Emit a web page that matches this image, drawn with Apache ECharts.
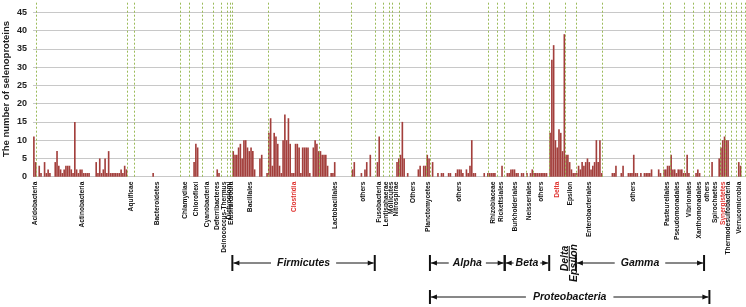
<!DOCTYPE html>
<html>
<head>
<meta charset="UTF-8">
<title>Selenoproteins per genome</title>
<script src="https://cdn.jsdelivr.net/npm/echarts@6.0.0/dist/echarts.min.js"></script>
<style>
html, body { margin: 0; padding: 0; background: #fff; }
#main { width: 746px; height: 307px; }
</style>
</head>
<body>
<div id="main"></div>
<script type="text/javascript">
// taxon groups along the x axis, left to right
var groupLabels = [
  'Acidobacteria', 'Actinobacteria', 'Aquificae', 'Bacteroidetes', 'Chlamydiae',
  'Chloroflexi', 'Cyanobacteria', 'Deferribacteres', 'Deinococcus-Thermus', 'Dictyoglomi',
  'Elusimicrobia', 'Bacillales', 'Clostridia', 'Lactobacillales', 'others',
  'Fusobacteria', 'Lentisphaerae', 'Mollicutes', 'Nitrospirae', 'Others',
  'Planctomycetes', 'others', 'Rhizobiaceae', 'Rickettsiales', 'Burkholderiales',
  'Neisseriales', 'others', 'Delta', 'Epsilon', 'Enterobacteriales',
  'others', 'Pasteurellales', 'Pseudomonadales', 'Vibrionales', 'Xanthomonadales',
  'others', 'Spirochaetes', 'Synergistetes', 'Thermodesulfobacteria', 'Thermotogae',
  'Verrucomicrobia', ''
];

// selenoproteins per genome, one array per group (same order as groupLabels)
var groupBars = [
  [11, 4],
  [0, 3, 1, 0, 4, 1, 2, 1, 0, 0, 4, 7, 3, 2, 1, 2, 3, 3, 3, 2, 1, 15, 2, 1, 2, 2, 1, 1, 1, 1, 0, 0, 0, 4, 1, 5, 1, 2, 5, 1, 7, 1, 1, 1, 1, 1, 1, 2, 1, 3, 2],
  [0, 0, 0, 0],
  [0, 0, 0, 0, 0, 0, 0, 0, 0, 0, 1, 0, 0, 0, 0, 0, 0, 0, 0, 0, 0, 0, 0, 0, 0, 0],
  [0, 0, 0, 0, 0],
  [0, 0, 4, 9, 8, 0, 0],
  [0, 0, 0, 0, 0, 0],
  [0, 0, 2, 1, 0],
  [0, 0, 0],
  [0, 0],
  [0],
  [7, 6, 6, 8, 9, 5, 10, 10, 8, 7, 8, 7, 2, 0, 0, 5, 6, 0, 0, 1],
  [12, 16, 3, 12, 11, 9, 3, 1, 10, 17, 10, 16, 9, 1, 1, 9, 9, 8, 1, 8, 8, 8, 8, 1, 0, 8, 10, 9, 7],
  [7, 6, 6, 6, 3, 0, 1, 1, 4, 0, 0, 0, 0, 0, 0, 0, 0, 0],
  [2, 4, 0, 0, 0, 1, 0, 2, 4, 0, 6, 0, 0],
  [0, 4, 11, 0, 0],
  [0, 0, 0],
  [0, 0],
  [0, 0, 4, 5],
  [6, 15, 5, 0, 1, 0, 0, 0, 0, 0, 2, 3, 0, 3, 3],
  [6, 5],
  [0, 4, 0, 0, 1, 0, 1, 1, 0, 0, 1, 1, 0, 0, 1, 2, 2, 2, 1, 0, 2, 1, 3, 10, 1, 1, 0, 0, 0, 0, 1, 0, 1],
  [1, 1, 1, 1, 0],
  [0, 0, 3, 0],
  [0, 1, 1, 2, 2, 2, 1, 1, 0, 1, 1, 0],
  [1, 0, 1, 2],
  [1, 1, 1, 1, 1, 1, 1, 1, 0],
  [12, 32, 36, 10, 8, 13, 12, 7, 39],
  [6, 6, 4, 2, 1, 1],
  [1, 3, 2, 4, 3, 4, 5, 4, 2, 3, 4, 10, 4, 10, 1],
  [0, 0, 0, 0, 0, 1, 1, 3, 0, 0, 1, 3, 0, 0, 1, 1, 1, 6, 1, 1, 0, 1, 0, 1, 1, 1, 1, 2, 0, 0, 0, 2, 1, 0],
  [2, 2, 3, 3],
  [6, 2, 2, 1, 2, 2, 2, 1],
  [1, 6, 1, 0, 0],
  [0, 1, 2, 1, 0, 0],
  [0, 0, 0],
  [0, 4, 0, 0, 0, 5],
  [8, 10, 11],
  [10, 10, 0],
  [0, 0, 0],
  [0, 4, 3],
  [0, 0]
];

var redLabels = ['Clostridia', 'Delta', 'Synergistetes'];
var yMax = 48;
var yStep = 5;

// brackets under the axis: first and last group index they span
var brackets = [
  { name: 'Firmicutes', from: 11, to: 14, row: 0, gap: 6 },
  { name: 'Alpha', from: 21, to: 23, row: 0, gap: 4 },
  { name: 'Beta', from: 24, to: 26, row: 0, gap: 2 },
  { name: 'Gamma', from: 29, to: 34, row: 0, gap: 6 },
  { name: 'Proteobacteria', from: 21, to: 35, row: 1, gap: 7 }
];

var starts = [];
var values = [];
groupBars.forEach(function (g) {
  starts.push(values.length);
  values = values.concat(g);
});
var n = values.length;
var slots = values.map(function (v, i) { return i; });
var centers = [];
var labelByPos = {};
groupBars.forEach(function (g, i) {
  var c = starts[i] + (g.length - 1) / 2;
  if (groupLabels[i]) {
    centers.push(c);
    labelByPos[c.toFixed(1)] = groupLabels[i];
  }
});
var bounds = groupBars.map(function (g, i) { return starts[i] + g.length - 0.5; });

var FONT = '"Liberation Sans", Arial, sans-serif';
var chart = echarts.init(document.getElementById('main'));

chart.setOption({
  animation: false,
  grid: { left: 33, right: 1, top: 1.3, bottom: 130.3, outerBoundsMode: 'none', containLabel: false },
  xAxis: [
    { type: 'category', data: slots, show: false },
    {
      type: 'value', min: -0.5, max: n - 0.5, position: 'bottom',
      axisLine: { show: false }, axisTick: { show: false }, splitLine: { show: false },
      axisLabel: {
        customValues: centers,
        rotate: 90,
        margin: 5,
        fontSize: 6.6,
        fontWeight: 'bold',
        fontFamily: FONT,
        color: '#111',
        showMinLabel: true,
        showMaxLabel: true,
        hideOverlap: false,
        formatter: function (v) {
          var t = labelByPos[v.toFixed(1)] || '';
          return redLabels.indexOf(t) >= 0 ? '{r|' + t + '}' : t;
        },
        rich: { r: { color: '#e0322f', fontSize: 6.6, fontWeight: 'bold', fontFamily: FONT } }
      }
    }
  ],
  yAxis: {
    type: 'value', min: 0, max: yMax, interval: yStep,
    name: 'The number of selenoproteins',
    nameLocation: 'middle',
    nameGap: 22,
    nameMoveOverlap: false,
    nameTextStyle: { fontSize: 9.5, fontWeight: 'bold', fontFamily: FONT, color: '#222' },
    axisLine: { show: false }, axisTick: { show: false },
    axisLabel: {
      margin: 6, fontSize: 9, fontWeight: 'bold', fontFamily: FONT, color: '#222',
      showMaxLabel: false,
      formatter: function (v) { return v % yStep === 0 ? v : ''; }
    },
    splitLine: { showMaxLine: false, lineStyle: { color: '#c8c8c8', width: 1 } }
  },
  series: [
    {
      type: 'bar',
      data: values,
      barCategoryGap: '8%',
      itemStyle: { color: '#a33f3c' }
    },
    {
      type: 'scatter',
      xAxisIndex: 1,
      data: [],
      silent: true,
      markLine: {
        silent: true,
        symbol: ['none', 'none'],
        label: { show: false },
        lineStyle: { color: '#9bbb59', type: [2, 2], width: 1 },
        data: bounds.map(function (b) { return { xAxis: b }; })
      }
    }
  ]
});

// bracket annotations under the labels
var ctx = document.createElement('canvas').getContext('2d');
var BFONT = 'italic bold 10.5px ' + FONT;
ctx.font = BFONT;
function px(v) { return chart.convertToPixel({ xAxisIndex: 1 }, v); }
function seg(x1, y1, x2, y2, w) {
  return { type: 'line', silent: true, shape: { x1: x1, y1: y1, x2: x2, y2: y2 }, style: { stroke: '#111', lineWidth: w } };
}
function tri(pts) {
  return { type: 'polygon', silent: true, shape: { points: pts }, style: { fill: '#111' } };
}
function txt(s, x, y, rot) {
  return {
    type: 'text', silent: true, x: x, y: y, rotation: rot || 0,
    style: { text: s, font: BFONT, fill: '#111', align: 'center', verticalAlign: 'middle', textAlign: 'center', textVerticalAlign: 'middle' }
  };
}

var els = [];
brackets.forEach(function (b) {
  var x1 = px(starts[b.from] - 0.5);
  var x2 = px(bounds[b.to]);
  var y = b.row === 0 ? 263 : 297;
  var h = b.row === 0 ? 8 : 7;
  var cx = (x1 + x2) / 2;
  var tw = ctx.measureText(b.name).width;
  els.push(seg(x1, y - h, x1, y + h, 2));
  els.push(seg(x2, y - h, x2, y + h, 2));
  els.push(seg(x1 + 1, y, cx - tw / 2 - b.gap, y, 1));
  els.push(seg(cx + tw / 2 + b.gap, y, x2 - 1, y, 1));
  els.push(tri([[x1 + 1, y], [x1 + 7, y - 2.5], [x1 + 7, y + 2.5]]));
  els.push(tri([[x2 - 1, y], [x2 - 7, y - 2.5], [x2 - 7, y + 2.5]]));
  els.push(txt(b.name, cx, y));
});

// Delta / Epsilon written upright between Beta and Gamma
var ex = px(starts[28] - 0.5);
els.push(txt('Delta', ex - 0.5, 258.5, Math.PI / 2));
els.push(seg(ex + 4, 246, ex + 4, 271, 1));
els.push(txt('Epsilon', ex + 9, 263, Math.PI / 2));

chart.setOption({ graphic: { elements: els } });
</script>
</body>
</html>
